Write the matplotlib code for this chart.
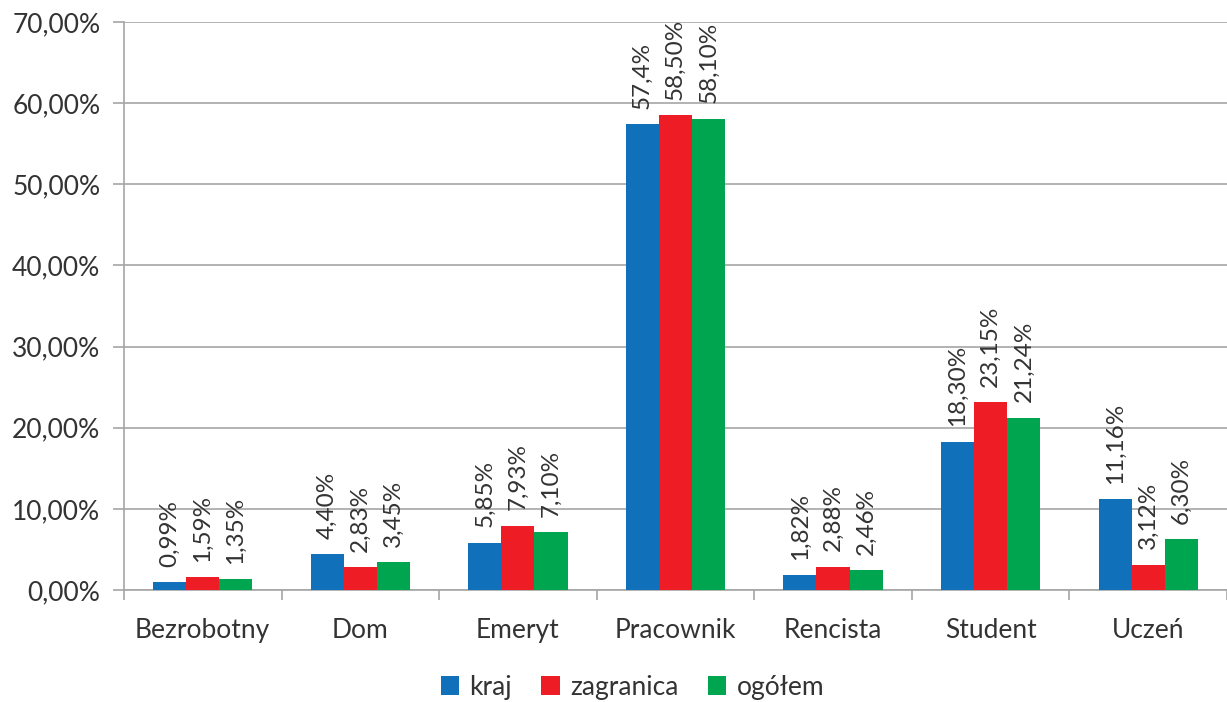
import matplotlib.pyplot as plt
import numpy as np

plt.rcParams['font.family'] = ['Lato', 'DejaVu Sans']

categories = ['Bezrobotny', 'Dom', 'Emeryt', 'Pracownik', 'Rencista', 'Student', 'Uczeń']
series_names = ['kraj', 'zagranica', 'ogółem']
kraj = [0.99, 4.40, 5.85, 57.4, 1.82, 18.30, 11.16]
zagranica = [1.59, 2.83, 7.93, 58.50, 2.88, 23.15, 3.12]
ogolem = [1.35, 3.45, 7.10, 58.10, 2.46, 21.24, 6.30]
kraj_labels = ['0,99%', '4,40%', '5,85%', '57,4%', '1,82%', '18,30%', '11,16%']
zagranica_labels = ['1,59%', '2,83%', '7,93%', '58,50%', '2,88%', '23,15%', '3,12%']
ogolem_labels = ['1,35%', '3,45%', '7,10%', '58,10%', '2,46%', '21,24%', '6,30%']

colors = ['#1070BA', '#EE1C25', '#00A54F']
grey = '#A6A6A6'
text_color = '#333333'

fig = plt.figure(figsize=(12.27, 7.02), dpi=100)
ax = fig.add_axes([0.101, 0.1595, 0.899, 0.8092])

x = np.arange(len(categories))
w = 0.21
all_vals = [kraj, zagranica, ogolem]
all_labels = [kraj_labels, zagranica_labels, ogolem_labels]
for i, (vals, labs) in enumerate(zip(all_vals, all_labels)):
    pos = x + (i - 1) * w
    ax.bar(pos, vals, w, color=colors[i], label=series_names[i], zorder=3)
    for px, v, lab in zip(pos, vals, labs):
        ax.annotate(lab, (px, v), xytext=(0, 11), textcoords='offset points',
                    rotation=90, ha='center', va='bottom', fontsize=17.5,
                    color=text_color, zorder=4)

ax.set_xlim(-0.5, len(categories) - 0.5)
ax.set_ylim(0, 70)
ax.set_yticks(np.arange(0, 71, 10))
ax.set_yticklabels([f'{v:.2f}%'.replace('.', ',') for v in np.arange(0, 71, 10)])
ax.yaxis.grid(True, color=grey, linewidth=1.2, zorder=0)
ax.tick_params(axis='y', length=8, color=grey, width=1.2, labelsize=19, labelcolor=text_color, pad=9)

ax.set_xticks(x)
ax.set_xticklabels(categories)
ax.set_xticks(np.arange(-0.5, len(categories), 1), minor=True)
ax.tick_params(axis='x', which='major', length=0, labelsize=19, labelcolor=text_color, pad=20)
ax.tick_params(axis='x', which='minor', length=7, color=grey, width=1.2)

for s in ['top', 'right']:
    ax.spines[s].set_visible(False)
for s in ['left', 'bottom']:
    ax.spines[s].set_color(grey)
    ax.spines[s].set_linewidth(1.2)

ax.legend(loc='lower center', bbox_to_anchor=(0.461, -0.226), ncol=3, frameon=False,
          fontsize=19, handlelength=0.7, handleheight=0.7, handletextpad=0.4,
          columnspacing=1.1, labelcolor=text_color, borderpad=0.2)

fig.savefig('out.png', dpi=100)
